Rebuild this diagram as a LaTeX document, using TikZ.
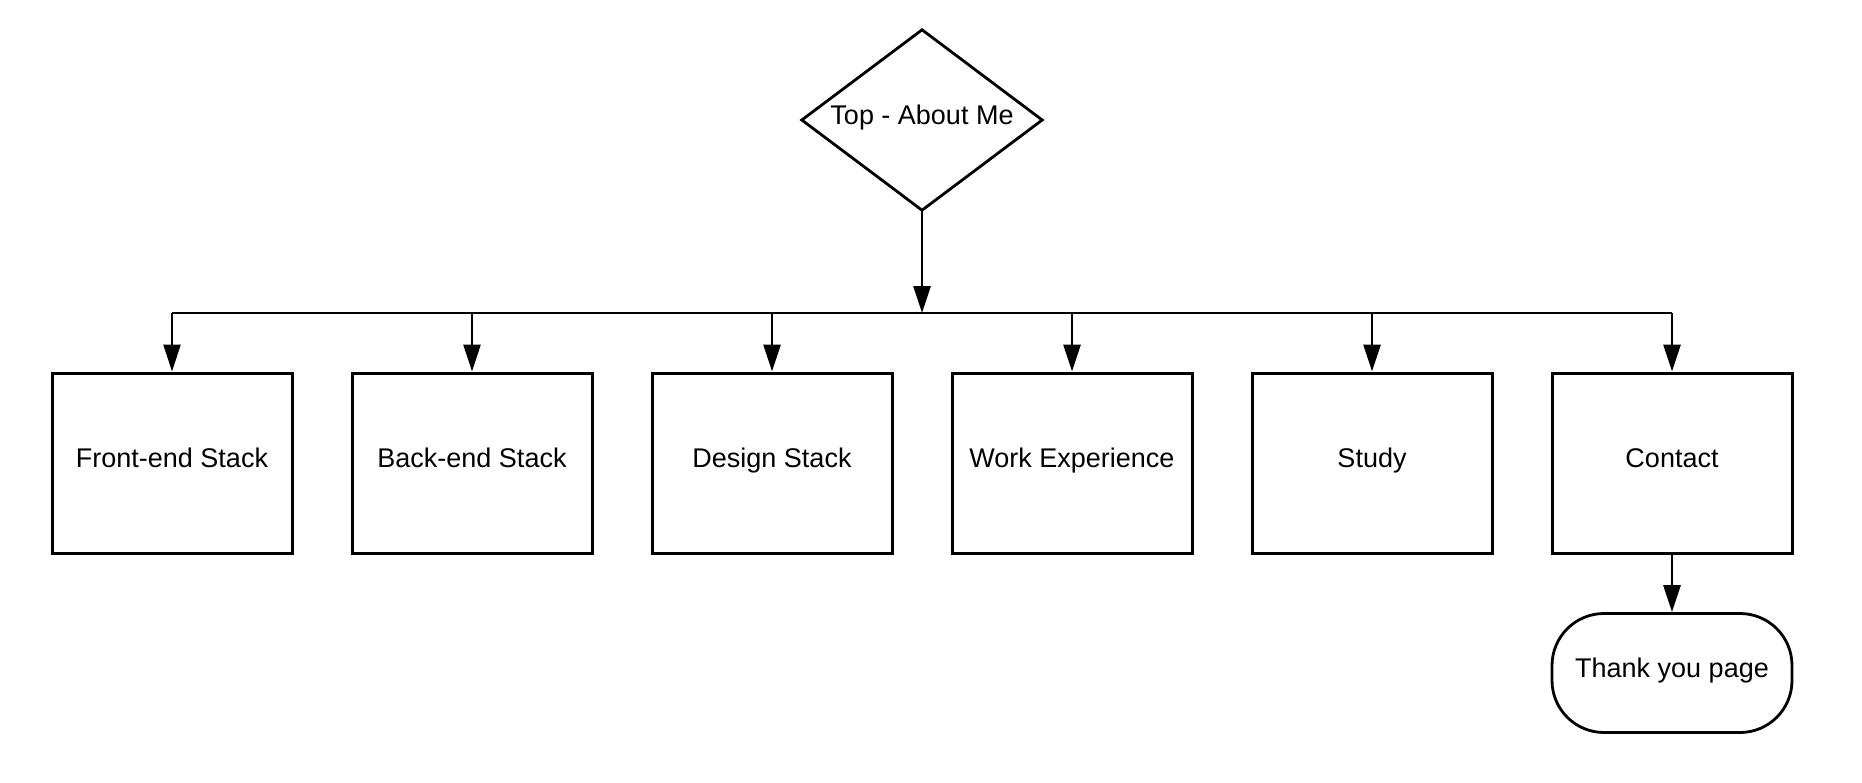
\documentclass[tikz,border=0pt]{standalone}
\usepackage{fontspec}
\setmainfont{Liberation Sans}
\usetikzlibrary{arrows.meta}
\begin{document}
\begin{tikzpicture}[x=1pt,y=-1pt,
  every node/.style={font=\fontsize{27}{31}\selectfont,text height=13pt,text depth=5pt},
  boxnode/.style={draw,line width=3pt,minimum width=240pt,minimum height=180pt,inner sep=0pt},
  decisionframe/.style={minimum width=240pt,minimum height=180pt,inner sep=0pt},
  outline/.style={line width=2.8pt,line join=miter},
  pill/.style={draw,line width=2.8pt,rounded corners=52pt,minimum width=240pt,minimum height=119pt,inner sep=0pt},
  conn/.style={line width=2.8pt,-{Triangle[width=17pt,length=27pt]}},
  busline/.style={line width=2.8pt}]
\useasboundingbox (0,0) rectangle (1862,782);
\fill[white] (0,0) rectangle (1862,782);
\node[decisionframe] (top) at (922,120) {Top - About Me};
\draw[outline] (top.north) -- (top.east) -- (top.south) -- (top.west) -- cycle;
\node[boxnode] (b1) at (172,463) {Front-end Stack};
\node[boxnode] (b2) at (472,463) {Back-end Stack};
\node[boxnode] (b3) at (772,463) {Design Stack};
\node[boxnode] (b4) at (1072,463) {Work Experience};
\node[boxnode] (b5) at (1372,463) {Study};
\node[boxnode] (b6) at (1672,463) {Contact};
\node[pill] (ty) at (1672,673) {Thank you page};
\coordinate (hub) at (922,313);
\coordinate (j1) at (172,313);
\coordinate (j2) at (472,313);
\coordinate (j3) at (772,313);
\coordinate (j4) at (1072,313);
\coordinate (j5) at (1372,313);
\coordinate (j6) at (1672,313);
\draw[conn] (top.south) -- (hub);
\draw[busline] (j1) -- (j6);
\draw[conn] (j1) -- (b1.north);
\draw[conn] (j2) -- (b2.north);
\draw[conn] (j3) -- (b3.north);
\draw[conn] (j4) -- (b4.north);
\draw[conn] (j5) -- (b5.north);
\draw[conn] (j6) -- (b6.north);
\draw[conn] (b6.south) -- (ty.north);
\end{tikzpicture}
\end{document}
